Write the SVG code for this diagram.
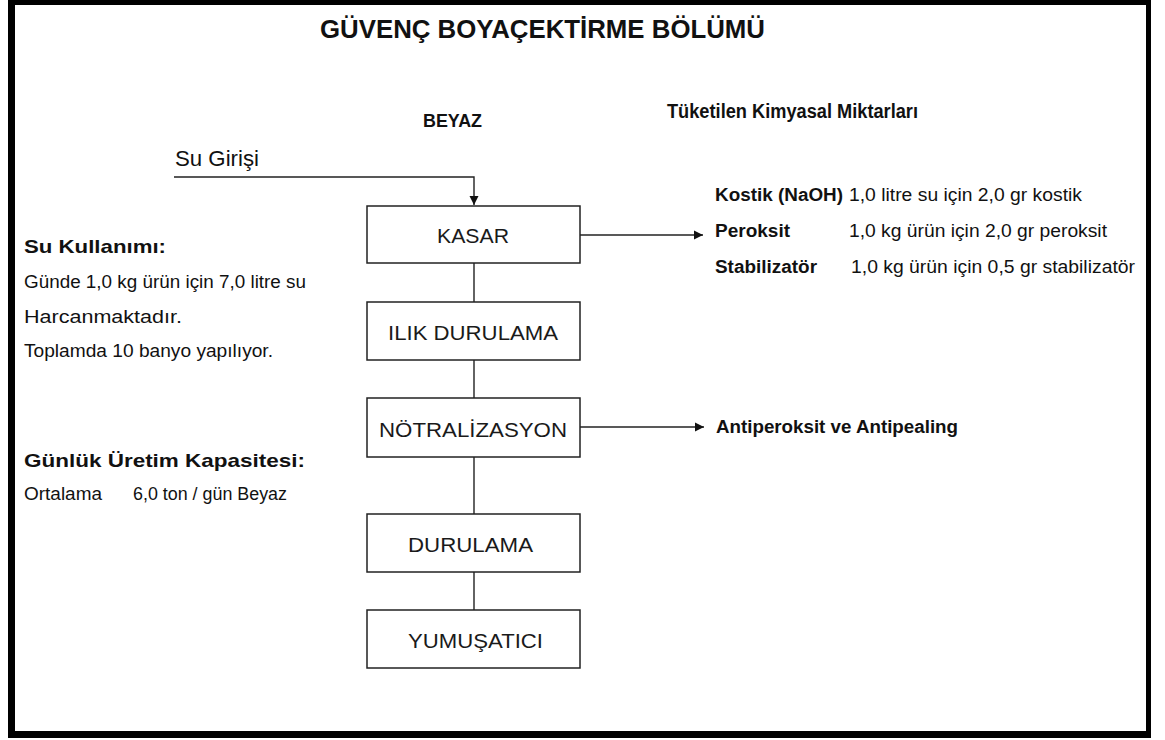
<svg xmlns="http://www.w3.org/2000/svg" width="1165" height="740" viewBox="0 0 1165 740">
  <style>
    text { font-family: "Liberation Sans", Arial, sans-serif; fill: #111; }
    .b { font-weight: bold; }
    .box { fill: #fff; stroke: #222; stroke-width: 1.5; }
    .bt { font-size: 21px; fill: #1a1a1a; }
    .lt { font-size: 17.5px; }
    .conn line, .conn polyline { stroke: #222; stroke-width: 1.4; fill: none; }
  </style>
  <defs>
    <marker id="arr" markerWidth="10" markerHeight="10" refX="9" refY="5" orient="auto" markerUnits="userSpaceOnUse">
      <path d="M0,0.5 L9,5 L0,9.5 Z" fill="#111"/>
    </marker>
  </defs>
  <rect x="0" y="0" width="1165" height="740" fill="#fff"/>
  <!-- frame -->
  <g id="frame" fill="#000">
    <rect x="8" y="0" width="1143" height="5"/>
    <rect x="8" y="0" width="7" height="738"/>
    <rect x="1146" y="0" width="5" height="738"/>
    <rect x="8" y="731" width="1143" height="7"/>
  </g>

  <g id="title">
    <text class="b" x="320" y="38" font-size="25" textLength="445" lengthAdjust="spacingAndGlyphs">GÜVENÇ BOYAÇEKTİRME BÖLÜMÜ</text>
    <text class="b" x="423" y="127" font-size="19" textLength="59" lengthAdjust="spacingAndGlyphs">BEYAZ</text>
    <text class="b" x="667" y="118" font-size="19.5" textLength="251" lengthAdjust="spacingAndGlyphs">Tüketilen Kimyasal Miktarları</text>
  </g>

  <g id="su-girisi">
    <text x="175" y="166" font-size="21.5" textLength="84" lengthAdjust="spacingAndGlyphs">Su Girişi</text>
  </g>

  <g id="su-kullanimi">
    <text class="b" x="24" y="253" font-size="18.5" textLength="142" lengthAdjust="spacingAndGlyphs">Su Kullanımı:</text>
    <text class="lt" x="24" y="288" textLength="282" lengthAdjust="spacingAndGlyphs">Günde 1,0 kg ürün için 7,0 litre su</text>
    <text class="lt" x="24" y="323" textLength="158" lengthAdjust="spacingAndGlyphs">Harcanmaktadır.</text>
    <text class="lt" x="24" y="357" textLength="249" lengthAdjust="spacingAndGlyphs">Toplamda 10 banyo yapılıyor.</text>
  </g>

  <g id="kapasite">
    <text class="b" x="24" y="467" font-size="18.5" textLength="281" lengthAdjust="spacingAndGlyphs">Günlük Üretim Kapasitesi:</text>
    <text class="lt" x="24" y="500" textLength="78" lengthAdjust="spacingAndGlyphs">Ortalama</text>
    <text class="lt" x="133" y="500" textLength="154" lengthAdjust="spacingAndGlyphs">6,0 ton / gün Beyaz</text>
  </g>

  <g id="kimyasal">
    <text class="b lt" x="715" y="201" textLength="128" lengthAdjust="spacingAndGlyphs">Kostik (NaOH)</text>
    <text class="lt" x="849" y="201" textLength="233" lengthAdjust="spacingAndGlyphs">1,0 litre su için 2,0 gr kostik</text>
    <text class="b lt" x="715" y="237" textLength="75" lengthAdjust="spacingAndGlyphs">Peroksit</text>
    <text class="lt" x="849" y="237" textLength="258" lengthAdjust="spacingAndGlyphs">1,0 kg ürün için 2,0 gr peroksit</text>
    <text class="b lt" x="715" y="273" textLength="102" lengthAdjust="spacingAndGlyphs">Stabilizatör</text>
    <text class="lt" x="851" y="273" textLength="284" lengthAdjust="spacingAndGlyphs">1,0 kg ürün için 0,5 gr stabilizatör</text>
  </g>

  <g id="antiperoksit">
    <text class="b lt" x="716" y="433" textLength="242" lengthAdjust="spacingAndGlyphs">Antiperoksit ve Antipealing</text>
  </g>

  <g class="conn" id="connectors">
    <polyline points="174,177 474,177 474,205" marker-end="url(#arr)"/>
    <line x1="580" y1="235" x2="703" y2="235" marker-end="url(#arr)"/>
    <line x1="580" y1="427" x2="704" y2="427" marker-end="url(#arr)"/>
    <line x1="474" y1="263" x2="474" y2="302"/>
    <line x1="474" y1="360" x2="474" y2="398"/>
    <line x1="474" y1="457" x2="474" y2="514"/>
    <line x1="474" y1="572" x2="474" y2="610"/>
  </g>

  <g id="kasar">
    <rect class="box" x="367" y="206" width="213" height="57"/>
    <text class="bt" x="437" y="243" textLength="72" lengthAdjust="spacingAndGlyphs">KASAR</text>
  </g>
  <g id="ilik-durulama">
    <rect class="box" x="367" y="302" width="213" height="58"/>
    <text class="bt" x="388" y="340" textLength="170" lengthAdjust="spacingAndGlyphs">ILIK DURULAMA</text>
  </g>
  <g id="notralizasyon">
    <rect class="box" x="367" y="398" width="213" height="59"/>
    <text class="bt" x="379" y="437" textLength="188" lengthAdjust="spacingAndGlyphs">NÖTRALİZASYON</text>
  </g>
  <g id="durulama">
    <rect class="box" x="367" y="514" width="213" height="58"/>
    <text class="bt" x="408" y="552" textLength="125" lengthAdjust="spacingAndGlyphs">DURULAMA</text>
  </g>
  <g id="yumusatici">
    <rect class="box" x="367" y="610" width="213" height="58"/>
    <text class="bt" x="408" y="648" textLength="135" lengthAdjust="spacingAndGlyphs">YUMUŞATICI</text>
  </g>
</svg>
